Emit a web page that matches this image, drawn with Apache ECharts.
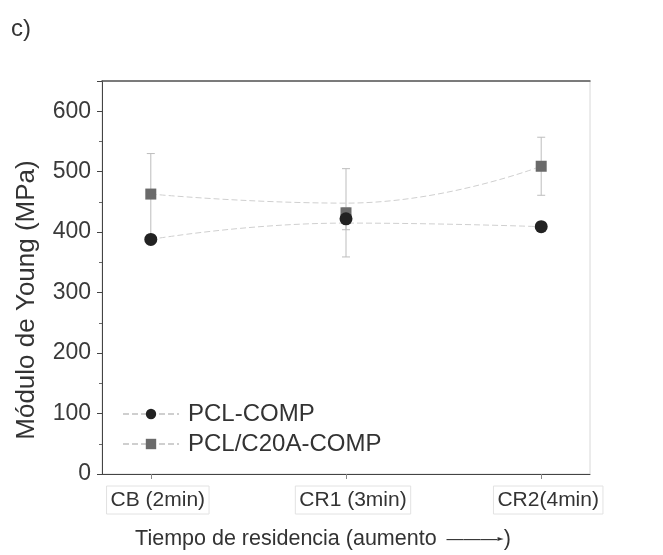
<!DOCTYPE html>
<html>
<head>
<meta charset="utf-8">
<script src="https://cdn.jsdelivr.net/npm/echarts@6/dist/echarts.min.js"></script>
<style>
  html, body { margin: 0; padding: 0; background: #fff; }
  #chart { width: 663px; height: 555px; }
</style>
</head>
<body>
<div id="chart"></div>
<script>
const categories = ['CB (2min)', 'CR1 (3min)', 'CR2(4min)']
// PCL-COMP (circles)
const pclComp = [388, 422, 409]
const pclCompErr = [8, 18, 8]
const pclCompCurve = [388, 415, 409]
// PCL/C20A-COMP (squares)
const pclC20a = [463, 432, 509]
const pclC20aErr = [67, 73, 48]
const pclC20aCurve = [463, 448, 509]

const font = "'Liberation Sans', Arial, sans-serif"
const chart = echarts.init(document.getElementById('chart'))

const pairs = (vals) => vals.map((v, i) => [i, v])
const errData = (vals, errs) => vals.map((v, i) => [i, v, errs[i]])

const errorBars = (params, api) => {
  const x = api.value(0)
  const y = api.value(1)
  const e = api.value(2)
  const top = api.coord([x, y + e])
  const bot = api.coord([x, y - e])
  const style = { stroke: '#bdbdbd', lineWidth: 1 }
  return {
    type: 'group',
    children: [
      { type: 'line', shape: { x1: top[0], y1: top[1], x2: bot[0], y2: bot[1] }, style },
      { type: 'line', shape: { x1: top[0] - 4, y1: top[1], x2: top[0] + 4, y2: top[1] }, style },
      { type: 'line', shape: { x1: bot[0] - 4, y1: bot[1], x2: bot[0] + 4, y2: bot[1] }, style },
    ],
  }
}

const option = {
  animation: false,
  textStyle: { fontFamily: font },
  title: {
    text: 'c)',
    left: 6,
    top: 12,
    textStyle: { fontSize: 24, fontWeight: 'normal', color: '#333', fontFamily: font },
  },
  grid: {
    left: 102,
    right: 73,
    top: 81,
    bottom: 81,
    show: true,
    borderColor: '#d8d8d8',
    borderWidth: 1,
  },
  legend: {
    data: ['PCL-COMP', 'PCL/C20A-COMP'],
    orient: 'vertical',
    left: 122,
    top: 402,
    padding: 0,
    itemWidth: 56,
    itemHeight: 13,
    itemGap: 6,
    textStyle: { fontSize: 24, color: '#333', fontFamily: font, padding: [0, 0, 0, 4] },
  },
  xAxis: [
    {
      type: 'value',
      min: -0.25,
      max: 2.25,
      interval: 0.25,
      splitLine: { show: false },
      axisLine: { onZero: false, lineStyle: { color: '#444', width: 1 } },
      axisTick: { customValues: [0, 1, 2], length: 5, lineStyle: { color: '#888' } },
      axisLabel: {
        customValues: [0, 1, 2],
        formatter: (v) => '{b|' + categories[Math.round(v)] + '}',
        margin: 12,
        padding: [0, 0, 0, 14],
        rich: {
          b: {
            fontSize: 21,
            color: '#333',
            fontFamily: font,
            padding: [4, 4, 3, 4],
            borderColor: '#e2e2e2',
            borderWidth: 1,
          },
        },
      },
      name: '{t|Tiempo de residencia (aumento}   {a|———}{h|►}{t|)}',
      nameLocation: 'middle',
      nameGap: 54,
      nameTextStyle: {
        padding: [0, 46, 0, 0],
        rich: {
          t: { fontSize: 21.5, color: '#333', fontFamily: font },
          a: { fontSize: 17, color: '#333', fontFamily: font },
          h: { fontSize: 8, color: '#333', fontFamily: 'DejaVu Sans' },
        },
      },
    },
    {
      type: 'value',
      position: 'top',
      min: -0.25,
      max: 2.25,
      interval: 0.25,
      splitLine: { show: false },
      axisLine: { onZero: false, lineStyle: { color: '#555', width: 1.5 } },
      axisTick: { show: false },
      axisLabel: { show: false },
    },
  ],
  yAxis: {
    type: 'value',
    min: 0,
    max: 650,
    interval: 100,
    splitLine: { show: false },
    axisLine: { show: true, onZero: false, lineStyle: { color: '#444', width: 1 } },
    axisTick: { show: true, length: 5, lineStyle: { color: '#444' } },
    minorTick: { show: true, splitNumber: 2, length: 3, lineStyle: { color: '#666' } },
    axisLabel: { fontSize: 23, color: '#3a3a3a', margin: 11, showMaxLabel: false },
    name: 'Módulo de Young (MPa)',
    nameLocation: 'middle',
    nameGap: 62,
    nameTextStyle: { fontSize: 26, color: '#333', padding: [0, 45, 0, 0] },
  },
  series: [
    {
      name: 'PCL-COMP',
      type: 'line',
      smooth: true,
      data: pairs(pclCompCurve),
      showSymbol: false,
      symbol: 'circle',
      symbolSize: 11,
      itemStyle: { color: '#222' },
      lineStyle: { color: '#cfcfcf', width: 1, type: [6, 3] },
      z: 1,
    },
    {
      name: 'PCL/C20A-COMP',
      type: 'line',
      smooth: true,
      data: pairs(pclC20aCurve),
      showSymbol: false,
      symbol: 'rect',
      symbolSize: 10,
      itemStyle: { color: '#6a6a6a' },
      lineStyle: { color: '#cfcfcf', width: 1, type: [6, 3] },
      z: 1,
    },
    {
      name: 'PCL-COMP',
      type: 'custom',
      renderItem: errorBars,
      data: errData(pclComp, pclCompErr),
      z: 2,
    },
    {
      name: 'PCL/C20A-COMP',
      type: 'custom',
      renderItem: errorBars,
      data: errData(pclC20a, pclC20aErr),
      z: 2,
    },
    {
      name: 'PCL/C20A-COMP',
      type: 'scatter',
      symbol: 'rect',
      symbolSize: 11,
      data: pairs(pclC20a),
      itemStyle: { color: '#6a6a6a', opacity: 1 },
      z: 3,
    },
    {
      name: 'PCL-COMP',
      type: 'scatter',
      symbol: 'circle',
      symbolSize: 13,
      data: pairs(pclComp),
      itemStyle: { color: '#222', opacity: 1 },
      z: 4,
    },
  ],
}
chart.setOption(option)
</script>
</body>
</html>
